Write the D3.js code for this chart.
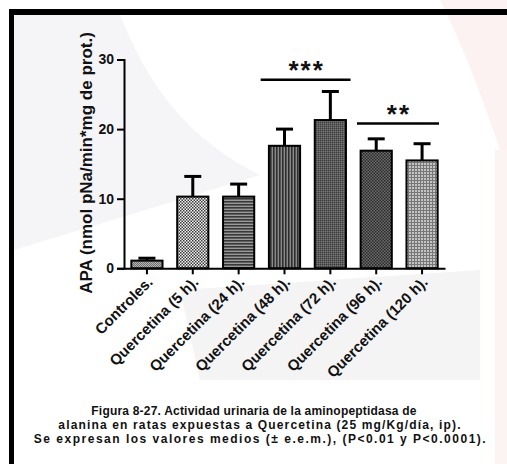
<!DOCTYPE html>
<html>
<head>
<meta charset="utf-8">
<script src="https://cdnjs.cloudflare.com/ajax/libs/d3/7.8.5/d3.min.js"></script>
<style>
  html, body { margin: 0; padding: 0; background: #ffffff; }
  svg { display: block; }
  text { font-family: "Liberation Sans", Arial, Helvetica, sans-serif; font-weight: bold; fill: #111; }
</style>
</head>
<body>
<svg id="chart" width="507" height="464"></svg>
<script>
// Urinary alanine aminopeptidase activity per group (mean and upper s.e.m.)
const categories = ["Controles.", "Quercetina (5 h).", "Quercetina (24 h).", "Quercetina (48 h).",
                    "Quercetina (72 h).", "Quercetina (96 h).", "Quercetina (120 h)."];
const means = [1.1, 10.3, 10.3, 17.6, 21.3, 16.9, 15.5];
const sem   = [0.35, 2.9, 1.8, 2.4, 4.1, 1.7, 2.4];
const yTicks = [0, 10, 20, 30];
const yLabel = "APA (nmol pNa/min*mg de prot.)";
// significance brackets: span in group-index units, bracket height (data units), stars
const brackets = [
  { from: 2.48, to: 4.44, level: 27.1, stars: "***" },
  { from: 4.58, to: 6.37, level: 20.8, stars: "**" }
];
const captionLines = [
  "Figura 8-27. Actividad urinaria de la aminopeptidasa de",
  "alanina en ratas expuestas a Quercetina (25 mg/Kg/día, ip).",
  "Se expresan los valores medios (± e.e.m.), (P<0.01 y P<0.0001)."
];

const svg = d3.select("#chart");
const W = 507, H = 464;

// faint background artwork
const bg = svg.append("g");
bg.append("path").attr("d", "M14,15 L120,15 C150,90 190,140 260,175 L14,250 Z").attr("fill", "#f5f5f7");
bg.append("path").attr("d", "M180,290 L480,270 L480,380 L200,380 Z").attr("fill", "#f4f4f5");
bg.append("path").attr("d", "M440,0 L507,0 L507,170 C490,120 470,60 440,0 Z").attr("fill", "#fcf2f2");
bg.append("rect").attr("x", 495).attr("y", 150).attr("width", 12).attr("height", 314).attr("fill", "#fcf3f3");

// frame
svg.append("rect").attr("x", 9).attr("y", 9).attr("width", W - 9).attr("height", 6).attr("fill", "#000");
svg.append("rect").attr("x", 9).attr("y", 9).attr("width", 5).attr("height", H - 9).attr("fill", "#000");

// fill patterns for the bars
const defs = svg.append("defs");
function pattern(id, size, bgColor, draw) {
  const p = defs.append("pattern").attr("id", id).attr("patternUnits", "userSpaceOnUse")
    .attr("width", size).attr("height", size);
  p.append("rect").attr("width", size).attr("height", size).attr("fill", bgColor);
  draw(p);
}
pattern("p0", 2, "#b4b4b4", p => {
  p.append("rect").attr("x", 0).attr("y", 0).attr("width", 1).attr("height", 1).attr("fill", "#707070");
  p.append("rect").attr("x", 1).attr("y", 1).attr("width", 1).attr("height", 1).attr("fill", "#707070");
});
pattern("p1", 3, "#f2f2f2", p => {
  p.append("rect").attr("x", 0).attr("y", 0).attr("width", 1.5).attr("height", 1.5).attr("fill", "#3a3a3a");
  p.append("rect").attr("x", 1.5).attr("y", 1.5).attr("width", 1.5).attr("height", 1.5).attr("fill", "#3a3a3a");
});
pattern("p2", 3, "#9a9a9a", p => {
  p.append("rect").attr("x", 0).attr("y", 0).attr("width", 3).attr("height", 1.6).attr("fill", "#383838");
});
pattern("p3", 3, "#8a8a8a", p => {
  p.append("rect").attr("x", 0).attr("y", 0).attr("width", 1.6).attr("height", 3).attr("fill", "#2e2e2e");
});
pattern("p4", 2, "#5a5a5a", p => {
  p.append("rect").attr("x", 0).attr("y", 0).attr("width", 1).attr("height", 1).attr("fill", "#3c3c3c");
  p.append("rect").attr("x", 1).attr("y", 1).attr("width", 1).attr("height", 1).attr("fill", "#777");
});
pattern("p5", 3, "#6c6c6c", p => {
  p.append("rect").attr("x", 0).attr("y", 0).attr("width", 1.5).attr("height", 1.5).attr("fill", "#2a2a2a");
  p.append("rect").attr("x", 1.5).attr("y", 1.5).attr("width", 1.5).attr("height", 1.5).attr("fill", "#2a2a2a");
});
pattern("p6", 3, "#c4c4c4", p => {
  p.append("rect").attr("x", 0).attr("y", 0).attr("width", 3).attr("height", 1).attr("fill", "#777");
  p.append("rect").attr("x", 0).attr("y", 0).attr("width", 1).attr("height", 3).attr("fill", "#777");
});

// scales
const x = d3.scaleBand().domain(categories).range([124, 445]).paddingInner(0.32).paddingOuter(0.16);
const y = d3.scaleLinear().domain([0, 30]).range([268.3, 59.5]);
const center = i => x(categories[0]) + x.bandwidth() / 2 + i * x.step();

// bars
const bars = svg.append("g");
bars.selectAll("rect").data(categories).join("rect")
  .attr("x", d => x(d))
  .attr("y", (d, i) => y(means[i]))
  .attr("width", x.bandwidth())
  .attr("height", (d, i) => y(0) - y(means[i]))
  .attr("fill", (d, i) => `url(#p${i})`)
  .attr("stroke", "#000").attr("stroke-width", 2);

// upper error bars
const err = svg.append("g").attr("stroke", "#000").attr("stroke-width", 3);
categories.forEach((c, i) => {
  const cx = x(c) + x.bandwidth() / 2;
  err.append("line").attr("x1", cx).attr("x2", cx).attr("y1", y(means[i])).attr("y2", y(means[i] + sem[i]));
  err.append("line").attr("x1", cx - 8.5).attr("x2", cx + 8.5).attr("y1", y(means[i] + sem[i])).attr("y2", y(means[i] + sem[i]));
});

// y axis
const yAxis = svg.append("g").attr("transform", "translate(124,0)")
  .call(d3.axisLeft(y).tickValues(yTicks).tickSize(7).tickPadding(3));
yAxis.select(".domain").attr("stroke", "#000").attr("stroke-width", 2);
yAxis.selectAll(".tick line").attr("stroke", "#000").attr("stroke-width", 2);
yAxis.selectAll(".tick text").attr("font-size", 14).attr("font-family", null).attr("font-weight", null).attr("fill", "#111");

// x axis
const xAxis = svg.append("g").attr("transform", `translate(0,${y(0)})`)
  .call(d3.axisBottom(x).tickSize(6).tickSizeOuter(0));
xAxis.select(".domain").attr("stroke", "#000").attr("stroke-width", 2);
xAxis.selectAll(".tick line").attr("stroke", "#000").attr("stroke-width", 2);
xAxis.selectAll(".tick text")
  .attr("font-size", 15).attr("font-family", null).attr("font-weight", null).attr("fill", "#111")
  .attr("text-anchor", "end")
  .attr("dy", "0.35em")
  .attr("transform", "translate(3,11) rotate(-45)")
  .attr("y", 0).attr("x", 0);

// y axis title
svg.append("text")
  .attr("transform", `translate(91.5,${(32.7 + 293.3) / 2}) rotate(-90)`)
  .attr("text-anchor", "middle").attr("font-size", 17)
  .text(yLabel);

// significance brackets
const sig = svg.append("g");
brackets.forEach(b => {
  const x1 = center(b.from), x2 = center(b.to);
  sig.append("line").attr("x1", x1).attr("x2", x2).attr("y1", y(b.level)).attr("y2", y(b.level))
    .attr("stroke", "#000").attr("stroke-width", 2.5);
  sig.append("text").attr("x", (x1 + x2) / 2 + 1).attr("y", y(b.level) - 0.5)
    .attr("text-anchor", "middle").attr("font-size", 26).attr("letter-spacing", 2)
    .text(b.stars);
});

// caption (each line carries its own character spacing)
const capSpacing = [0.2, 1.15, 1.5];
const capCenter = [254, 260, 260.5];
svg.append("g").selectAll("text").data(captionLines).join("text")
  .attr("x", (d, i) => capCenter[i]).attr("y", (d, i) => 415 + i * 14.2)
  .attr("text-anchor", "middle").attr("font-size", 12)
  .attr("letter-spacing", (d, i) => capSpacing[i])
  .text(d => d);
</script>
</body>
</html>
